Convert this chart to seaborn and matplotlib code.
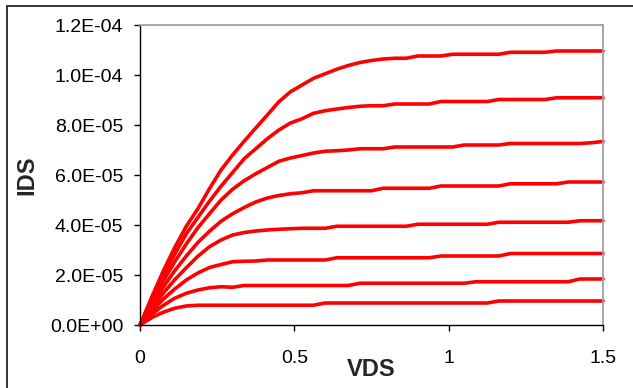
import matplotlib
matplotlib.use("Agg")
import matplotlib.pyplot as plt
import seaborn as sns
import pandas as pd
from matplotlib.patches import Rectangle

# ---- data (IDS values in micro-amps) ----
VDS = [0.0, 0.0375, 0.075, 0.1125, 0.15, 0.1875, 0.225, 0.2625, 0.3, 0.3375,
       0.375, 0.4125, 0.45, 0.4875, 0.525, 0.5625, 0.6, 0.6375, 0.675, 0.7125,
       0.75, 0.7875, 0.825, 0.8625, 0.9, 0.9375, 0.975, 1.0125, 1.05, 1.0875,
       1.125, 1.1625, 1.2, 1.2375, 1.275, 1.3125, 1.35, 1.3875, 1.425, 1.4625, 1.5]

IDS_1 = [0, 2.9, 5.1, 6.7, 7.6, 7.9, 7.9, 7.9, 7.9, 7.9,
         7.9, 7.9, 7.9, 7.9, 7.9, 7.9, 8.8, 8.8, 8.8, 8.8,
         8.8, 8.8, 8.8, 8.8, 8.8, 8.8, 8.8, 8.8, 8.8, 8.8,
         8.8, 9.6, 9.6, 9.6, 9.6, 9.6, 9.6, 9.6, 9.6, 9.6, 9.6]
IDS_2 = [0, 4.2, 7.8, 10.7, 12.7, 14.0, 14.9, 15.3, 15.1, 15.8,
         15.8, 15.8, 15.8, 15.8, 15.8, 15.8, 15.8, 15.8, 15.8, 16.7,
         16.7, 16.7, 16.7, 16.7, 16.7, 16.7, 16.7, 16.7, 16.7, 17.3,
         17.3, 17.3, 17.3, 17.3, 17.3, 17.3, 17.3, 17.3, 18.4, 18.4, 18.4]
IDS_3 = [0, 5.4, 10.3, 14.4, 18.0, 20.8, 23.0, 24.2, 25.3, 25.5,
         25.6, 26.0, 26.0, 26.0, 26.0, 26.0, 26.0, 26.9, 26.9, 26.9,
         26.9, 26.9, 26.9, 26.9, 26.9, 26.9, 27.6, 27.6, 27.6, 27.6,
         27.6, 27.6, 28.6, 28.6, 28.6, 28.6, 28.6, 28.6, 28.6, 28.6, 28.6]
IDS_4 = [0, 6.7, 12.7, 18.1, 22.9, 27.5, 31.3, 34.0, 36.0, 37.0,
         37.6, 38.0, 38.3, 38.5, 38.7, 38.7, 38.7, 39.5, 39.5, 39.5,
         39.5, 39.5, 39.5, 39.5, 40.3, 40.3, 40.3, 40.3, 40.3, 40.3,
         40.3, 41.1, 41.1, 41.1, 41.1, 41.1, 41.1, 41.1, 41.7, 41.7, 41.7]
IDS_5 = [0, 7.9, 15.1, 21.7, 27.6, 33.0, 37.5, 41.5, 44.5, 47.0,
         49.2, 50.8, 51.8, 52.5, 52.9, 53.7, 53.7, 53.7, 53.7, 53.7,
         53.7, 54.7, 54.7, 54.7, 54.7, 54.7, 55.6, 55.6, 55.6, 55.6,
         55.6, 55.6, 56.5, 56.5, 56.5, 56.5, 56.5, 57.2, 57.2, 57.2, 57.2]
IDS_6 = [0, 9.1, 17.5, 25.3, 32.4, 38.9, 44.5, 50.0, 54.3, 57.7,
         60.5, 63.0, 65.5, 66.8, 67.8, 68.8, 69.5, 69.7, 70.0, 70.5,
         70.5, 70.5, 71.2, 71.2, 71.2, 71.2, 71.2, 71.2, 72.0, 72.0,
         72.0, 72.0, 72.6, 72.6, 72.6, 72.6, 72.6, 72.6, 72.6, 72.9, 73.4]
IDS_7 = [0, 10.1, 19.5, 28.3, 36.5, 43.0, 49.5, 55.5, 61.0, 66.5,
         70.5, 74.5, 78.0, 80.8, 82.5, 84.7, 85.7, 86.4, 87.0, 87.5,
         87.7, 87.7, 88.4, 88.4, 88.4, 88.4, 89.4, 89.4, 89.4, 89.4,
         89.4, 90.2, 90.2, 90.2, 90.2, 90.2, 90.9, 90.9, 90.9, 90.9, 90.9]
IDS_8 = [0, 11.0, 21.5, 31.0, 39.5, 46.5, 54.5, 62.0, 68.0, 73.5,
         78.8, 84.0, 89.3, 93.3, 96.0, 98.7, 100.5, 102.3, 103.8, 105.0,
         105.8, 106.4, 106.7, 106.7, 107.6, 107.6, 107.6, 108.3, 108.3, 108.3,
         108.3, 108.3, 109.1, 109.1, 109.1, 109.1, 109.6, 109.6, 109.6, 109.6, 109.6]

CURVES = [IDS_1, IDS_2, IDS_3, IDS_4, IDS_5, IDS_6, IDS_7, IDS_8]

X_TICKS = [0, 0.5, 1, 1.5]
X_TICK_LABELS = ["0", "0.5", "1", "1.5"]
Y_TICKS = [0.0, 2.0e-5, 4.0e-5, 6.0e-5, 8.0e-5, 1.0e-4, 1.2e-4]
Y_TICK_LABELS = ["0.0E+00", "2.0E-05", "4.0E-05", "6.0E-05", "8.0E-05", "1.0E-04", "1.2E-04"]

# ---- build long-form table ----
rows = []
for k, curve in enumerate(CURVES):
    for v, i in zip(VDS, curve):
        rows.append({"VDS": v, "IDS": i * 1e-6, "curve": k})
df = pd.DataFrame(rows)

sns.set_style("white")
plt.rcParams["font.family"] = ["Liberation Sans", "DejaVu Sans"]

W, H = 633, 388
fig = plt.figure(figsize=(W / 100, H / 100), dpi=100)
ax = fig.add_axes([140 / W, (H - 325) / H, 463 / W, 300 / H])

sns.lineplot(data=df, x="VDS", y="IDS", hue="curve",
             palette=["#FF0000"] * len(CURVES), linewidth=2.6,
             legend=False, ax=ax, estimator=None, sort=False)
for ln in ax.lines:
    ln.set_clip_on(False)

ax.set_xlim(0, 1.5)
ax.set_ylim(0, 1.2e-4)
ax.set_xticks(X_TICKS)
ax.set_xticklabels(X_TICK_LABELS)
ax.set_yticks(Y_TICKS)
ax.set_yticklabels(Y_TICK_LABELS)

ax.tick_params(axis="both", which="major", direction="out", length=4, width=1,
               color="black", labelsize=14, labelcolor="black",
               bottom=True, left=True, top=False, right=False)
ax.tick_params(axis="x", pad=14)
ax.tick_params(axis="y", pad=8)

for s in ["left", "bottom"]:
    ax.spines[s].set_color("black")
    ax.spines[s].set_linewidth(1.0)
for s in ["top", "right"]:
    ax.spines[s].set_color("#A0A0A0")
    ax.spines[s].set_linewidth(1.3)
    ax.spines[s].set_visible(True)

ax.set_xlabel("VDS", fontsize=17, fontweight="bold", va="center", ha="center")
ax.xaxis.set_label_coords(0.5, -44 / 300)
ax.set_ylabel("IDS", fontsize=17, fontweight="bold", va="center", ha="center",
              rotation=90)
ax.yaxis.set_label_coords(-113 / 463, 0.5)

# outer chart frame (cropped on right and bottom)
frame = Rectangle((7 / W, -0.2), 1.5, (H - 6) / H + 0.2, transform=fig.transFigure,
                  fill=False, edgecolor="#222222", linewidth=1.3)
fig.patches.append(frame)

fig.savefig("out.png", dpi=100)
